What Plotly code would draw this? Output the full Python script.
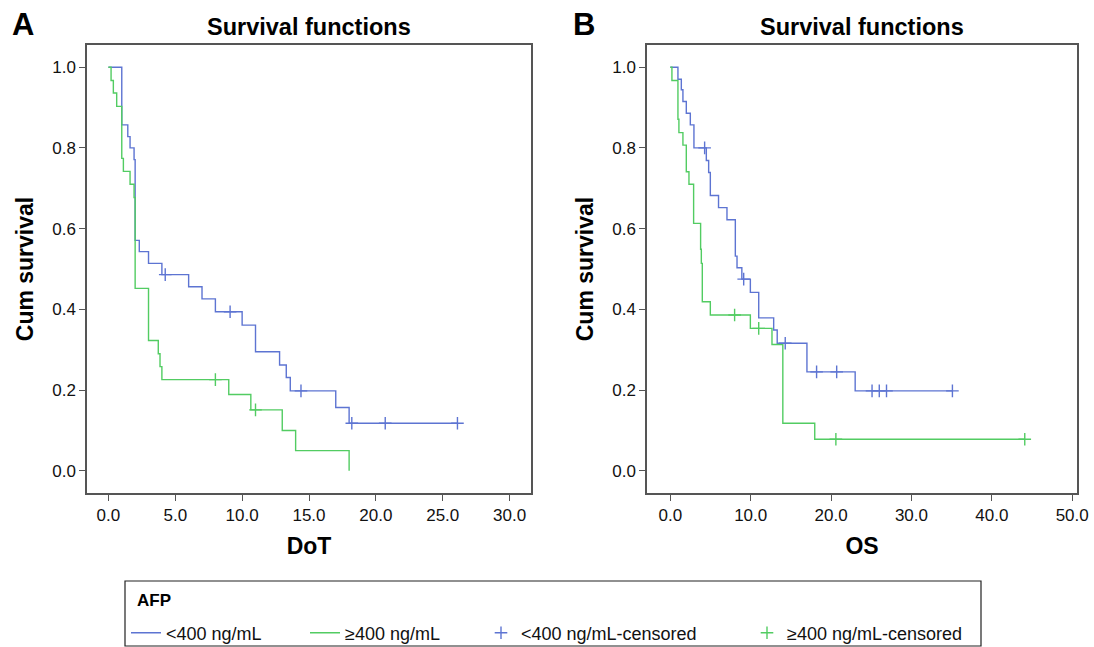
import plotly.graph_objects as go

# ---------------- Data ----------------
# Panel A: DoT
a_low_t = [0.0, 1.0, 1.45, 1.62, 1.92, 2.0, 2.31, 3.0, 4.0, 6.0, 7.0, 8.0, 10.0, 11.0, 12.8, 13.3, 13.6, 17.0, 18.0, 26.1]
a_low_s = [1.0, 0.857, 0.828, 0.800, 0.771, 0.571, 0.543, 0.514, 0.486, 0.456, 0.426, 0.394, 0.361, 0.295, 0.262, 0.231, 0.198, 0.157, 0.118, 0.118]
a_low_cens_t = [4.25, 9.1, 14.4, 18.2, 20.7, 26.1]
a_low_cens_s = [0.486, 0.394, 0.198, 0.118, 0.118, 0.118]

a_high_t = [0.0, 0.2, 0.37, 0.62, 1.0, 1.12, 1.62, 1.92, 2.0, 3.0, 3.73, 3.86, 4.0, 9.0, 10.65, 13.0, 14.0, 18.0]
a_high_s = [1.0, 0.967, 0.936, 0.903, 0.774, 0.742, 0.710, 0.677, 0.452, 0.323, 0.290, 0.258, 0.226, 0.189, 0.151, 0.100, 0.050, 0.0]
a_high_cens_t = [8.0, 11.0]
a_high_cens_s = [0.226, 0.151]

# Panel B: OS
b_low_t = [0.0, 0.95, 1.37, 1.57, 1.99, 2.49, 2.94, 4.48, 4.77, 4.98, 6.0, 7.05, 8.09, 8.3, 8.9, 9.96, 11.0, 12.86, 13.3, 17.0, 23.0, 35.1]
b_low_s = [1.0, 0.970, 0.944, 0.915, 0.886, 0.857, 0.800, 0.769, 0.739, 0.682, 0.652, 0.622, 0.532, 0.503, 0.475, 0.442, 0.379, 0.349, 0.316, 0.245, 0.198, 0.198]
b_low_cens_t = [4.27, 9.13, 14.3, 18.2, 20.7, 25.1, 26.0, 26.9, 35.1]
b_low_cens_s = [0.800, 0.475, 0.316, 0.245, 0.245, 0.198, 0.198, 0.198, 0.198]

b_high_t = [0.0, 0.2, 0.95, 1.07, 1.57, 1.99, 2.32, 2.9, 3.77, 3.86, 3.98, 4.98, 9.96, 12.65, 14.0, 17.97, 44.1]
b_high_s = [1.0, 0.967, 0.871, 0.838, 0.807, 0.741, 0.710, 0.613, 0.549, 0.514, 0.419, 0.386, 0.353, 0.313, 0.118, 0.078, 0.078]
b_high_cens_t = [8.0, 11.0, 20.6, 44.1]
b_high_cens_s = [0.386, 0.353, 0.078, 0.078]

x_ticks_a = [0, 5, 10, 15, 20, 25, 30]
x_ticks_b = [0, 10, 20, 30, 40, 50]
y_ticks = [0.0, 0.2, 0.4, 0.6, 0.8, 1.0]

names = ["<400 ng/mL", "≥400 ng/mL", "<400 ng/mL-censored", "≥400 ng/mL-censored"]
legend_title = "AFP"

BLUE = "#5d74d2"
GREEN = "#52cc62"
AXC = "#555555"
FONT = "Liberation Sans, Arial, sans-serif"
W, H = 1094, 647

fig = go.Figure()

def add_panel(xa, ya, low_t, low_s, high_t, high_s, lct, lcs, hct, hcs, show):
    fig.add_trace(go.Scatter(x=low_t, y=low_s, mode="lines", line=dict(color=BLUE, width=1.4, shape="hv"),
                             name=names[0], showlegend=show, legend="legend", xaxis=xa, yaxis=ya))
    fig.add_trace(go.Scatter(x=high_t, y=high_s, mode="lines", line=dict(color=GREEN, width=1.4, shape="hv"),
                             name=names[1], showlegend=show, legend="legend2", xaxis=xa, yaxis=ya))
    fig.add_trace(go.Scatter(x=lct, y=lcs, mode="markers",
                             marker=dict(symbol="cross-thin", size=9, line=dict(color=BLUE, width=1.4), color=BLUE),
                             name=names[2], showlegend=show, legend="legend3", xaxis=xa, yaxis=ya))
    fig.add_trace(go.Scatter(x=hct, y=hcs, mode="markers",
                             marker=dict(symbol="cross-thin", size=9, line=dict(color=GREEN, width=1.4), color=GREEN),
                             name=names[3], showlegend=show, legend="legend4", xaxis=xa, yaxis=ya))

add_panel("x", "y", a_low_t, a_low_s, a_high_t, a_high_s, a_low_cens_t, a_low_cens_s, a_high_cens_t, a_high_cens_s, True)
add_panel("x2", "y2", b_low_t, b_low_s, b_high_t, b_high_s, b_low_cens_t, b_low_cens_s, b_high_cens_t, b_high_cens_s, False)

ydom = [1 - 493 / H, 1 - 45 / H]

axis_common = dict(showline=True, linecolor=AXC, linewidth=1.5, mirror=True, ticks="outside",
                   ticklen=6, tickcolor=AXC, tickwidth=1.3, showgrid=False, zeroline=False, automargin=False,
                   tickfont=dict(family=FONT, size=17, color="#111"), tickformat=".1f")
title_font = dict(family=FONT, size=23, color="#000")

def leg(text_x):
    return dict(orientation="h", x=(text_x - 40) / W, y=1 - 633 / H, xanchor="left", yanchor="middle",
                borderwidth=0, bgcolor="rgba(0,0,0,0)", font=dict(family=FONT, size=18, color="#111"),
                itemwidth=30)

fig.update_layout(
    width=W, height=H, margin=dict(l=0, r=0, t=0, b=0, autoexpand=False),
    paper_bgcolor="white", plot_bgcolor="white",
    xaxis=dict(domain=[87 / W, 531 / W], range=[-1.6, 31.6], tickvals=x_ticks_a, anchor="y",
               title=dict(text="<b>DoT</b>", font=title_font, standoff=14), **axis_common),
    yaxis=dict(domain=ydom, range=[-0.055, 1.055], tickvals=y_ticks, anchor="x",
               title=dict(text="<b>Cum survival</b>", font=title_font, standoff=12), **axis_common),
    xaxis2=dict(domain=[647 / W, 1077 / W], range=[-2.9, 50.6], tickvals=x_ticks_b, anchor="y2",
                title=dict(text="<b>OS</b>", font=title_font, standoff=14), **axis_common),
    yaxis2=dict(domain=ydom, range=[-0.055, 1.055], tickvals=y_ticks, anchor="x2",
                title=dict(text="<b>Cum survival</b>", font=title_font, standoff=12), **axis_common),
    legend=leg(166), legend2=leg(345), legend3=leg(521), legend4=leg(787),
    shapes=[dict(type="rect", xref="paper", yref="paper", x0=125 / W, x1=981 / W,
                 y0=1 - 646 / H, y1=1 - 581 / H, line=dict(color="#222", width=1.2), layer="below")],
    annotations=[
        dict(text="<b>" + legend_title + "</b>", x=135 / W, y=1 - 600 / H, xref="paper", yref="paper",
             showarrow=False, font=dict(family=FONT, size=17, color="#000"), xanchor="left", yanchor="middle"),
        dict(text="<b>Survival functions</b>", x=(87 + 531) / 2 / W, y=1 - 27 / H, xref="paper", yref="paper",
             showarrow=False, font=dict(family=FONT, size=23.5, color="#000"), xanchor="center", yanchor="middle"),
        dict(text="<b>Survival functions</b>", x=(647 + 1077) / 2 / W, y=1 - 27 / H, xref="paper", yref="paper",
             showarrow=False, font=dict(family=FONT, size=23.5, color="#000"), xanchor="center", yanchor="middle"),
        dict(text="<b>A</b>", x=23 / W, y=1 - 25 / H, xref="paper", yref="paper", showarrow=False,
             font=dict(family=FONT, size=31, color="#000"), xanchor="center", yanchor="middle"),
        dict(text="<b>B</b>", x=584 / W, y=1 - 25 / H, xref="paper", yref="paper", showarrow=False,
             font=dict(family=FONT, size=31, color="#000"), xanchor="center", yanchor="middle"),
    ],
)

fig.write_html("out.html", config={"displayModeBar": False},
               post_script="document.body.style.margin='0';document.body.style.overflow='hidden';")
